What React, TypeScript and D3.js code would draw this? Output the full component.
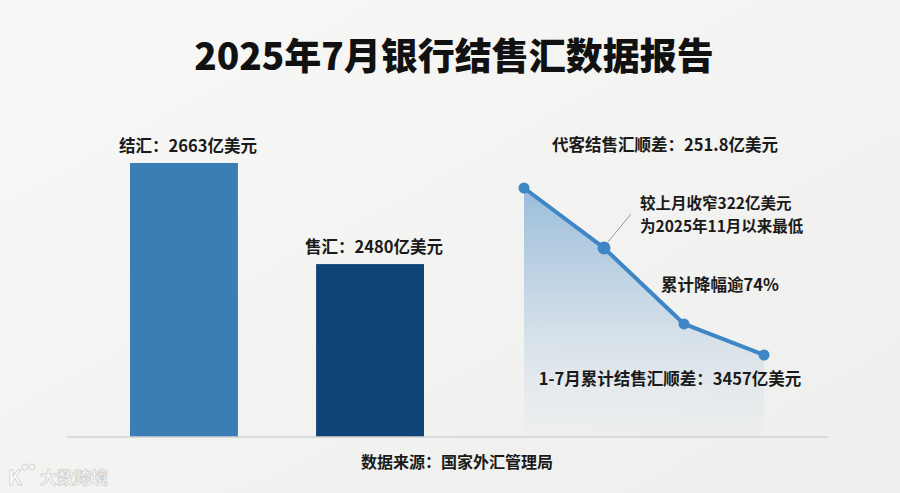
import * as d3 from "d3";

const W = 900;
const H = 493;
const FONT = "'Noto Sans CJK SC', 'Noto Sans', sans-serif";

// bars: 结汇 / 售汇 (亿美元)
const barNames = ["结汇", "售汇"];
const barValues = [2663, 2480];
const barColors = ["#3b7db5", "#0f4476"];

// monthly surplus trend (亿美元), last point = 251.8
const trendValues = [968, 711, 385, 251.8];

const BASE_Y = 437;

export default function App() {
  const x = d3.scaleBand().domain(barNames).range([130, 424]).paddingInner(0.42).paddingOuter(0);
  const y = d3.scaleLinear().domain([2167, 2663]).range([BASE_Y, 163]);

  const tx = d3.scalePoint<number>().domain(trendValues.map((_, i) => i)).range([524, 764]);
  const ty = d3.scaleLinear().domain([251.8, 968]).range([355, 188]);

  const line = d3.line<number>().x((_, i) => tx(i)!).y((d) => ty(d));
  const area = d3.area<number>().x((_, i) => tx(i)!).y0(BASE_Y).y1((d) => ty(d));

  const labelStyle = { fontFamily: FONT, fontWeight: 700, fontSize: 16.5, fill: "#1a1a1a" } as const;
  const noteStyle = { ...labelStyle, fontSize: 15.5 };

  return (
    <svg width={W} height={H} style={{ position: "absolute", left: 0, top: 0 }}>
      <defs>
        <linearGradient id="bg" x1="0" y1="0" x2="1" y2="1">
          <stop offset="0" stopColor="#f8f8f6" />
          <stop offset="1" stopColor="#eeeeec" />
        </linearGradient>
        <linearGradient id="areaFill" x1="0" y1="0" x2="0" y2="1">
          <stop offset="0" stopColor="#4f8fc8" stopOpacity={0.55} />
          <stop offset="0.55" stopColor="#a9c5de" stopOpacity={0.45} />
          <stop offset="1" stopColor="#e2e9f0" stopOpacity={0.2} />
        </linearGradient>
      </defs>
      <rect width={W} height={H} fill="url(#bg)" />

      <text x={454} y={70} textAnchor="middle" fontFamily={FONT} fontWeight={900} fontSize={37} fill="#111">
        2025年7月银行结售汇数据报告
      </text>

      {/* bars */}
      {barNames.map((n, i) => (
        <g key={n}>
          <rect x={x(n)} y={y(barValues[i])} width={x.bandwidth()} height={BASE_Y - y(barValues[i])} fill={barColors[i]} />
          <text x={x(n)! + x.bandwidth() / 2 + 4} y={y(barValues[i]) - 11} textAnchor="middle" {...labelStyle}>
            {`${n}：${barValues[i]}亿美元`}
          </text>
        </g>
      ))}

      {/* trend */}
      <path d={area(trendValues)!} fill="url(#areaFill)" />
      <line x1={67} x2={828} y1={BASE_Y} y2={BASE_Y} stroke="#d2d2d2" strokeWidth={1.5} />
      <path d={line(trendValues)!} fill="none" stroke="#3e86c6" strokeWidth={4} strokeLinejoin="round" />
      {trendValues.map((v, i) => (
        <circle key={i} cx={tx(i)} cy={ty(v)} r={i === 1 ? 6.5 : 5.5} fill="#3e86c6" />
      ))}
      <line x1={tx(1)! + 4} y1={ty(trendValues[1]) - 6} x2={631} y2={214} stroke="#999" strokeWidth={1} />

      <text x={665} y={151} textAnchor="middle" {...labelStyle}>代客结售汇顺差：251.8亿美元</text>
      <text x={640} y={209} {...noteStyle}>较上月收窄322亿美元</text>
      <text x={640} y={232} {...noteStyle}>为2025年11月以来最低</text>
      <text x={661} y={291} {...labelStyle}>累计降幅逾74%</text>
      <text x={670} y={385} textAnchor="middle" {...labelStyle}>1-7月累计结售汇顺差：3457亿美元</text>

      <text x={457} y={468} textAnchor="middle" fontFamily={FONT} fontWeight={700} fontSize={16} fill="#1a1a1a">
        数据来源：国家外汇管理局
      </text>

      {/* watermark */}
      <g opacity={0.9}>
        <text x={8} y={485} fontFamily={FONT} fontWeight={700} fontSize={20} fill="#fff" stroke="#d0d0d0" strokeWidth={0.8}>K</text>
        <circle cx={25} cy={467} r={3} fill="none" stroke="#d0d0d0" strokeWidth={1} />
        <circle cx={32} cy={467} r={3} fill="none" stroke="#d0d0d0" strokeWidth={1} />
        <text x={40} y={484} fontFamily={FONT} fontWeight={700} fontSize={17} fill="#fff" stroke="#cfcfcf" strokeWidth={0.8}>大数跨境</text>
      </g>
    </svg>
  );
}
